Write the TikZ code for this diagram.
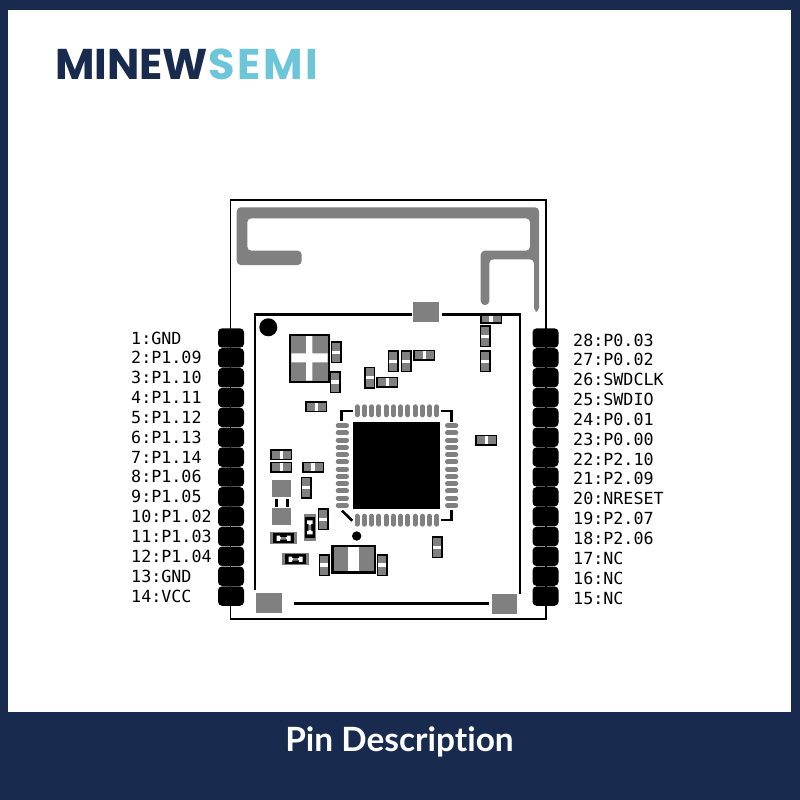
\documentclass[tikz,border=0pt]{standalone}
\usepackage{fontspec}
\setmainfont{Poppins}
\newfontfamily\pinfont{DejaVu Sans Mono}
\newfontfamily\titlefont[Ligatures=NoCommon]{Lato}
\definecolor{navy}{HTML}{182B4F}
\definecolor{logoblue}{HTML}{6CC5D9}
\definecolor{padgray}{HTML}{808080}
\tikzset{
  padbox/.style={fill=black,rounded corners=4pt,minimum width=26pt,minimum height=19.4pt,inner sep=0pt},
  pinlabel/.style={anchor=base west,inner sep=0pt,font=\pinfont\fontsize{16.7pt}{17pt}\selectfont},
  resv/.pic={\draw[line width=1.6pt,fill=padgray] (-4.7,-10.3) rectangle (4.7,10.3);
    \fill[white] (-3.9,-1.7) rectangle (3.9,1.7);},
  resh/.pic={\draw[line width=1.6pt,fill=padgray] (-10.3,-4.7) rectangle (10.3,4.7);
    \fill[white] (-1.7,-3.9) rectangle (1.7,3.9);},
  diodeh/.pic={\fill[padgray] (-13.7,-5.8) rectangle (13.7,5.8);
    \fill[black] (-10.3,-5) rectangle (10.3,5);
    \fill[white] (-7,-2.7) rectangle (-3.5,2.7) (3.5,-2.7) rectangle (7,2.7) (-3.5,-1.2) rectangle (3.5,1.2);
    \fill[padgray] (-2.5,-1) rectangle (2.5,1);},
}
\begin{document}
\begin{tikzpicture}[x=1pt,y=-1pt]
  \useasboundingbox (0,0) rectangle (800,800);
  % Frame and title bar
  \fill[navy] (0,0) rectangle (800,800);
  \fill[white] (8,10) rectangle (791,712);
  \node[text=white,font=\titlefont\fontsize{33.4pt}{35pt}\selectfont\bfseries] (title) at (399.5,741.5) {Pin Description};
  % Logo
  \node[anchor=base west,inner sep=0pt,text=navy,font=\fontsize{43pt}{45pt}\selectfont\bfseries] (logoa) at (55,79) {MINEW};
  \node[anchor=base west,inner sep=0pt,text=logoblue,font=\fontsize{43pt}{45pt}\selectfont\bfseries\addfontfeatures{LetterSpace=6}] (logob) at (208,79) {SEMI};
  % Module outline and antenna
  \draw[line width=1.5pt] (230.5,200) rectangle (546,619);
  \fill[padgray,rounded corners=4pt] (236.7,207.3) -- (539,207.3) -- (539,311.7) -- (534,311.7)
    -- (534,259.3) -- (489.3,259.3) -- (489.3,305) -- (480.7,305) -- (480.7,250.7) -- (530,250.7)
    -- (530,218.3) -- (247.3,218.3) -- (247.3,250.7) -- (301.7,250.7) -- (301.7,265) -- (236.7,265) -- cycle;
  % Pads and pin names
  \foreach \i/\nm [evaluate=\i as \py using {338+19.85*(\i-1)}] in
    {1/GND,2/P1.09,3/P1.10,4/P1.11,5/P1.12,6/P1.13,7/P1.14,8/P1.06,9/P1.05,10/P1.02,11/P1.03,12/P1.04,13/GND,14/VCC}{
    \node[padbox] (padl\i) at (231,\py) {};
    \node[pinlabel] (pinl\i) at (131,\py+6) {\i:\nm};
  }
  \foreach \i/\nm [evaluate=\i as \py using {338+19.85*(28-\i)}] in
    {28/P0.03,27/P0.02,26/SWDCLK,25/SWDIO,24/P0.01,23/P0.00,22/P2.10,21/P2.09,20/NRESET,19/P2.07,18/P2.06,17/NC,16/NC,15/NC}{
    \node[padbox] (padr\i) at (545.5,\py) {};
    \node[pinlabel] (pinr\i) at (573,\py+8) {\i:\nm};
  }
  % Small parts
  \pic at (491,318.5) {resh};
  \foreach \x/\y in {336/352.3,335.3/382,393/361.3,406/361.3,369.7/377.7,485.3/336.3,485.3/361.3,
    306/487.7,323.3/519.3,437/547.3,324.3/565,382/565}
    \pic at (\x,\y) {resv};
  \foreach \x/\y in {424.3/355.3,387.3/382.3,316.3/406.7,486.3/440.3,281.3/454.7,281.3/467,313/467}
    \pic at (\x,\y) {resh};
  \pic at (283.7,538.2) {diodeh};
  \pic at (295.5,559.2) {diodeh};
  \pic[rotate=90] at (309.8,527.3) {diodeh};
  % Shield line with gaps
  \fill[padgray] (413.3,302.3) rectangle (439.3,321.7);
  \draw[line width=2.8pt] (411.7,314.3) -- (255,314.3) -- (255,590);
  \draw[line width=2.8pt] (441.7,314.3) -- (520,314.3) -- (520,594);
  \draw[line width=2.8pt] (294,603.7) -- (489,603.7);
  \fill[padgray] (256,593.3) rectangle (281.7,612.7);
  \fill[padgray] (491.7,594.3) rectangle (517.3,613.7);
  \fill[black] (268.3,327.3) circle (9);
  % Crystal
  \draw[line width=2pt,fill=padgray] (290.3,335) rectangle (328.7,381.7);
  \fill[white] (306,336) rectangle (312.3,380.7) (291.3,353.3) rectangle (327.7,362.3);
  % Parts below the crystal
  \fill[padgray] (271.7,480.3) rectangle (291.3,497);
  \fill[padgray] (271.7,508.3) rectangle (291.3,525);
  \draw[line width=3pt] (276.3,498.7) -- (276.3,507.3) (287,498.7) -- (287,507.3);
  \draw[line width=2.4pt,fill=padgray] (332.3,546) rectangle (375,572.3);
  \fill[white] (348.3,547.2) rectangle (359,571.1);
  \fill[black] (356.7,536) circle (4.7);
  % MCU
  \fill[black] (353.3,422) rectangle (440,509);
  \foreach \i in {0,...,11}{
    \draw[padgray,line width=5pt,line cap=round] ({357+7.25*\i},406.8) -- ({357+7.25*\i},414.8);
    \draw[padgray,line width=5pt,line cap=round] ({357+7.25*\i},516.2) -- ({357+7.25*\i},524.2);
    \draw[padgray,line width=5pt,line cap=round] (338.2,{425.7+7.25*\i}) -- (346.5,{425.7+7.25*\i});
    \draw[padgray,line width=5pt,line cap=round] (447.5,{425.7+7.25*\i}) -- (455.8,{425.7+7.25*\i});
  }
  \draw[line width=2.6pt] (341.7,420.7) -- (341.7,411) -- (352.7,411);
  \draw[line width=2.6pt] (440.7,411) -- (451.7,411) -- (451.7,421.7);
  \draw[line width=2.6pt] (451.7,510) -- (451.7,520) -- (440.7,520);
  \draw[line width=2.6pt] (342,510.7) -- (352.3,520.7);
\end{tikzpicture}
\end{document}
